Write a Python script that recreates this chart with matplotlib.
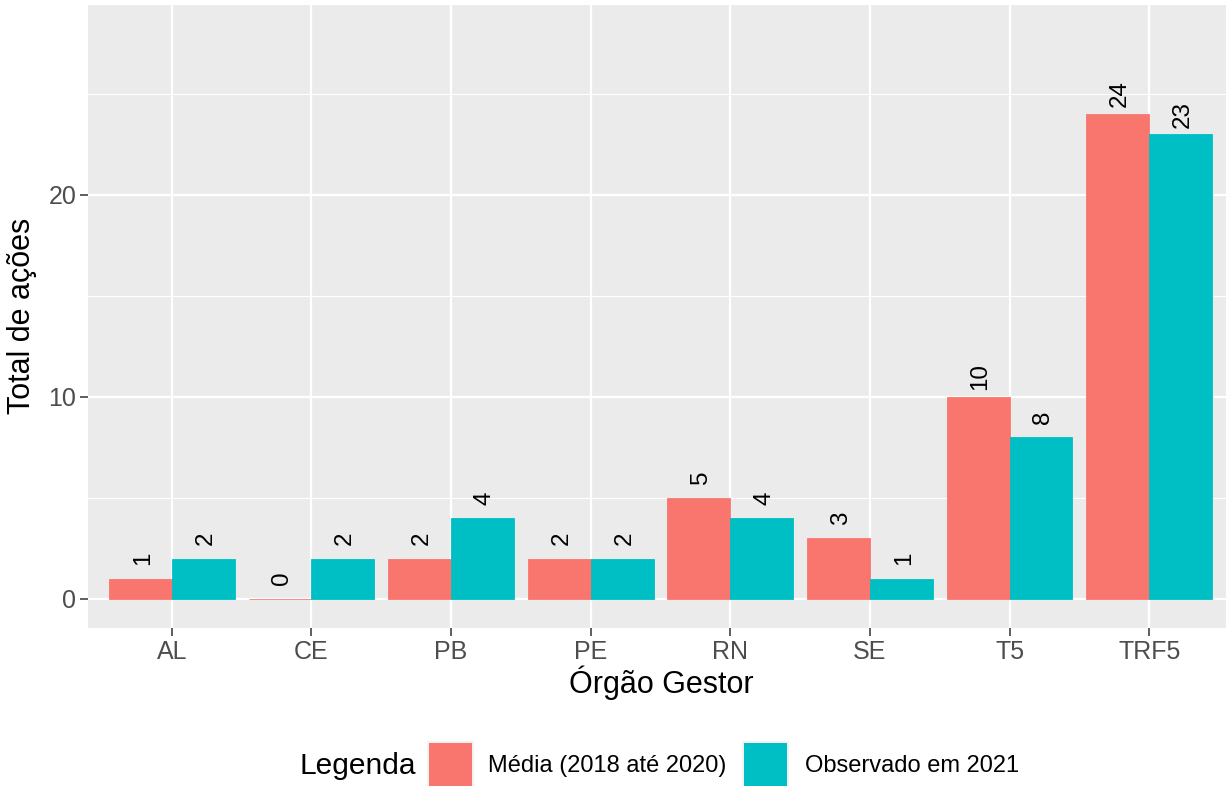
import matplotlib
matplotlib.use("Agg")
import matplotlib.pyplot as plt
from matplotlib.patches import Rectangle
import numpy as np

plt.rcParams['font.family'] = ['Liberation Sans', 'DejaVu Sans']

categories = ["AL", "CE", "PB", "PE", "RN", "SE", "T5", "TRF5"]
media = [1, 0, 2, 2, 5, 3, 10, 24]
observado = [2, 2, 4, 2, 4, 1, 8, 23]
series_names = ["Média (2018 até 2020)", "Observado em 2021"]
colors = ["#F8766D", "#00BFC4"]
label_nudge = 1.0

W, H = 1226, 786
fig = plt.figure(figsize=(W / 100, H / 100), dpi=100)
fig.patch.set_facecolor("white")

left, right, top, bottom = 88, 1233, 5, 628
ax = fig.add_axes([left / W, 1 - bottom / H, (right - left) / W, (bottom - top) / H])
ax.set_facecolor("#EBEBEB")

x = np.arange(1, len(categories) + 1)
bw = 0.45
for vals, off, col in [(media, -bw / 2, colors[0]), (observado, bw / 2, colors[1])]:
    ax.bar(x + off, vals, width=bw, color=col, edgecolor=col, linewidth=0.6, zorder=3)
    for xi, v in zip(x + off, vals):
        ax.annotate(str(v), (xi, v + label_nudge), xytext=(1.7, 0), textcoords="offset points",
                    rotation=90, ha="center", va="center", fontsize=17.4,
                    color="black", zorder=4)

ax.set_xlim(0.4, 8.6)
ax.set_ylim(-1.44, 29.4)
ax.set_yticks([0, 10, 20])
ax.set_yticks([5, 15, 25], minor=True)
ax.set_xticks(x)
ax.set_xticklabels(categories)
ax.grid(which="major", color="white", linewidth=1.6, zorder=0)
ax.grid(which="minor", axis="y", color="white", linewidth=0.8, zorder=0)
ax.set_axisbelow(True)
for s in ax.spines.values():
    s.set_visible(False)
ax.tick_params(axis="both", which="major", length=5.5, width=1.1, color="#333333",
               labelsize=18, labelcolor="#4D4D4D", pad=3)
ax.tick_params(axis="y", which="minor", length=0)

fig.text(661 / W, 1 - 683 / H, "Órgão Gestor", ha="center", va="center", fontsize=22)
fig.text(22 / W, 1 - 316 / H, "Total de ações", ha="center", va="center",
         rotation=90, fontsize=22)

# legend (ggplot-style, title on the left)
def px_rect(x0, y0, x1, y1, **kw):
    fig.add_artist(Rectangle((x0 / W, 1 - y1 / H), (x1 - x0) / W, (y1 - y0) / H,
                             transform=fig.transFigure, **kw))

fig.text(300 / W, 1 - 766 / H, "Legenda", ha="left", va="center", fontsize=21.5)
key_x = [429, 744]
text_x = [488, 805]
for kx, tx, col, name in zip(key_x, text_x, colors, series_names):
    px_rect(kx - 2, 741, kx + 45, 788, facecolor="#F2F2F2", edgecolor="none")
    px_rect(kx, 743, kx + 43, 786, facecolor=col, edgecolor="none")
    fig.text(tx / W, 1 - 766 / H, name, ha="left", va="center", fontsize=17)

fig.savefig("out.png", dpi=100)
